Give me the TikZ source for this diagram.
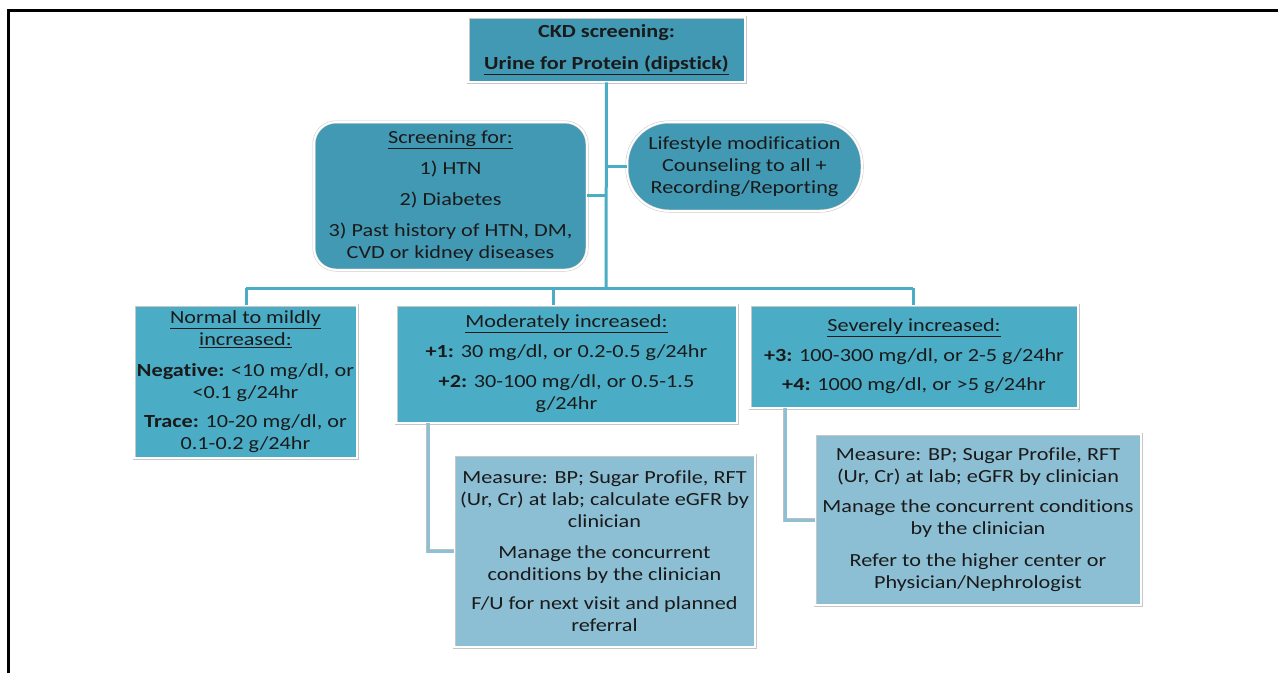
\documentclass[tikz,border=0pt]{standalone}
\usepackage{fontspec}
\setmainfont{Carlito}[FakeStretch=1.2, Ligatures={NoCommon}]
\definecolor{darkteal}{HTML}{4299B4}
\definecolor{midteal}{HTML}{4BACC6}
\definecolor{lightteal}{HTML}{8CBFD4}
\definecolor{linecol}{HTML}{4BACC6}
\definecolor{lowline}{HTML}{8DC0D5}
\definecolor{txt}{HTML}{1A1A1A}
\tikzset{
  boxbase/.style={draw=black!22, double=white, double distance=2pt, line width=0.5pt,
    align=center, inner sep=0pt, text=txt,
    font=\fontsize{18.5}{22}\selectfont},
  topbox/.style={boxbase, fill=darkteal},
  roundbox/.style={boxbase, fill=darkteal, rounded corners=22pt},
  pillbox/.style={boxbase, fill=darkteal, rounded corners=42pt},
  levelbox/.style={boxbase, fill=midteal},
  detailbox/.style={boxbase, fill=lightteal},
  upline/.style={draw=linecol, line width=3pt},
  lowconn/.style={draw=black!25, double=lowline, double distance=3pt, line width=0.5pt},
}
\begin{document}
\begin{tikzpicture}[x=1pt,y=-1pt]
\useasboundingbox (0,0) rectangle (1278,673);
\draw[black, line width=3pt] (8,673) -- (8,10) -- (1278,10);

\coordinate (busL) at (246,288);
\coordinate (busR) at (913,288);
\coordinate (trunkB) at (606,288);
\coordinate (scrJ) at (606,195);
\coordinate (lifJ) at (606,166);
\coordinate (modD) at (553,288);

\node[topbox, minimum width=277pt, minimum height=65pt] (top) at (606.5,49.5)
  {\textbf{CKD screening:}\\[10pt]\textbf{\underline{Urine for Protein (dipstick)}}};

\node[roundbox, minimum width=273pt, minimum height=148pt] (scr) at (450.5,196)
  {\underline{Screening for:}\\[9pt]1) HTN\\[9pt]2) Diabetes\\[9pt]3) Past history of HTN,\ DM,\\CVD or kidney diseases};

\node[pillbox, minimum width=235pt, minimum height=89pt] (life) at (744.5,166.5)
  {Lifestyle modification\\Counseling to all +\\Recording/Reporting};

\node[levelbox, minimum width=223pt, minimum height=153pt] (norm) at (245.5,381.5)
  {\underline{Normal to mildly}\\\underline{increased:}\\[9pt]\textbf{Negative:} <10 mg/dl, or\\<0.1 g/24hr\\[7pt]\textbf{Trace:} 10-20 mg/dl, or\\0.1-0.2 g/24hr};

\node[levelbox, minimum width=341pt, minimum height=118pt] (mod) at (566.5,364)
  {\underline{Moderately increased:}\\[8pt]\textbf{+1:} 30 mg/dl, or 0.2-0.5 g/24hr\\[8pt]\textbf{+2:} 30-100 mg/dl, or 0.5-1.5\\g/24hr};

\node[levelbox, minimum width=328pt, minimum height=103pt] (sev) at (914,356.5)
  {\underline{Severely increased:}\\[8pt]\textbf{+3:} 100-300 mg/dl, or 2-5 g/24hr\\[7pt]\textbf{+4:} 1000 mg/dl, or >5 g/24hr};

\node[detailbox, minimum width=301pt, minimum height=192pt] (modx) at (604.5,551)
  {Measure: BP; Sugar Profile, RFT\\(Ur, Cr) at lab; calculate eGFR by\\clinician\\[9pt]Manage the concurrent\\conditions by the clinician\\[7pt]F/U for next visit and planned\\referral};

\node[detailbox, minimum width=326pt, minimum height=171pt] (sevx) at (978,519.5)
  {Measure: BP; Sugar Profile, RFT\\(Ur, Cr) at lab; eGFR by clinician\\[8pt]Manage the concurrent conditions\\by the clinician\\[10pt]Refer to the higher center or\\Physician/Nephrologist};

% upper connectors
\draw[upline] (top.south) -- (trunkB);
\draw[upline] (scr.east |- scrJ) -- (scrJ);
\draw[upline] (lifJ) -- (life.west |- lifJ);
\draw[upline] (busL) -- (busR);
\draw[upline] (busL) -- (norm.north -| busL);
\draw[upline] (modD) -- (mod.north -| modD);
\draw[upline] (busR) -- (sev.north -| busR);

% lower connectors
\coordinate (mA) at (428,551);
\coordinate (sA) at (785,520);
\draw[lowconn] (mod.south -| mA) -- (mA) -- (modx.west |- mA);
\draw[lowconn] (sev.south -| sA) -- (sA) -- (sevx.west |- sA);
\end{tikzpicture}
\end{document}
